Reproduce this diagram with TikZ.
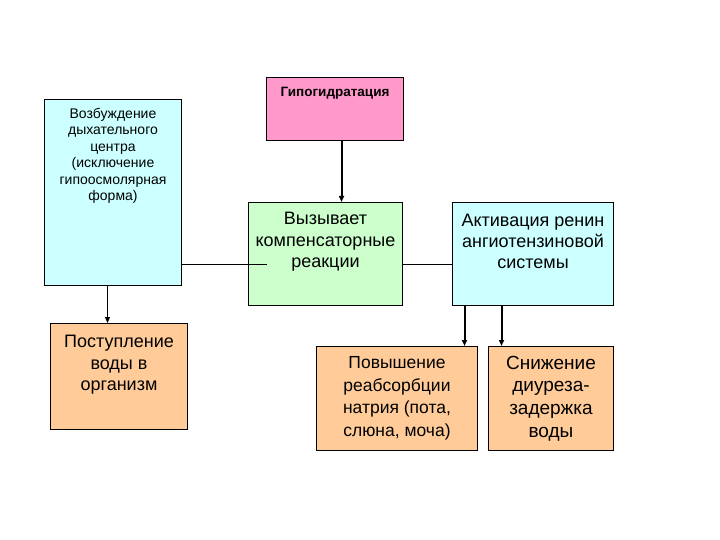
\documentclass[tikz,border=0pt]{standalone}
\usepackage{fontspec}
\setmainfont{Liberation Sans}
\usetikzlibrary{arrows.meta}

\definecolor{hypopink}{HTML}{FF99CC}
\definecolor{palecyan}{HTML}{CCFFFF}
\definecolor{palegreen}{HTML}{CCFFCC}
\definecolor{paleorange}{HTML}{FFCC99}

% text block: width, height, top gap, text
\newcommand{\blocktext}[4]{\parbox[t][#2][t]{#1}{\centering\vspace*{#3}#4\par}}

\tikzset{
  block/.style={draw, line width=1pt, inner sep=0pt, anchor=north west},
  conn/.style={line width=0.9pt},
  arrthin/.style={line width=1pt, -{Triangle[length=6pt,width=5pt]}},
  arrthick/.style={line width=2pt, -{Triangle[length=6pt,width=5pt]}},
}

\begin{document}
\begin{tikzpicture}[x=1pt,y=-1pt]
  \useasboundingbox (0,0) rectangle (720,540);

  % boxes
  \node[block, fill=hypopink, font=\bfseries\fontsize{13.5}{16}\selectfont] (hypo) at (266,77)
    {\blocktext{137pt}{63pt}{10pt}{Гипогидратация}};
  \node[block, fill=palecyan, font=\fontsize{14}{16.5}\selectfont] (vozb) at (44,99)
    {\blocktext{137pt}{186pt}{8.5pt}{Возбуждение\\ дыхательного\\ центра\\ (исключение\\ гипоосмолярная\\ форма)}};
  \node[block, fill=palegreen, font=\fontsize{18}{21.5}\selectfont] (vyz) at (248,202)
    {\blocktext{154pt}{103pt}{10pt}{Вызывает\\ компенсаторные\\ реакции}};
  \node[block, fill=palecyan, font=\fontsize{18}{21}\selectfont] (akt) at (452,202)
    {\blocktext{161pt}{103pt}{12pt}{Активация ренин\\ ангиотензиновой\\ системы}};
  \node[block, fill=paleorange, font=\fontsize{18}{21.5}\selectfont] (post) at (50,323)
    {\blocktext{137pt}{106pt}{12pt}{Поступление\\ воды в\\ организм}};
  \node[block, fill=paleorange, font=\fontsize{17.5}{22.7}\selectfont] (pov) at (316,346)
    {\blocktext{161pt}{104pt}{10pt}{Повышение\\ реабсорбции\\ натрия (пота,\\ слюна, моча)}};
  \node[block, fill=paleorange, font=\fontsize{19}{22.7}\selectfont] (sni) at (488,346)
    {\blocktext{125pt}{104pt}{9.5pt}{Снижение\\ диуреза-\\ задержка\\ воды}};

  % connectors
  \coordinate (lnk) at (267,264);
  \draw[conn] (lnk -| vozb.east) -- (lnk);
  \draw[conn] (lnk -| vyz.east) -- (lnk -| akt.west);
  \draw[arrthick] ([xshift=6.5pt]hypo.south) -- ([xshift=6.5pt]hypo.south |- vyz.north);
  \draw[arrthin] ([xshift=-5.5pt]vozb.south) -- ([xshift=-5.5pt]vozb.south |- post.north);
  \draw[arrthick] ([xshift=-68.5pt]akt.south) -- ([xshift=-68.5pt]akt.south |- pov.north);
  \draw[arrthick] ([xshift=-31.5pt]akt.south) -- ([xshift=-31.5pt]akt.south |- sni.north);
\end{tikzpicture}
\end{document}
